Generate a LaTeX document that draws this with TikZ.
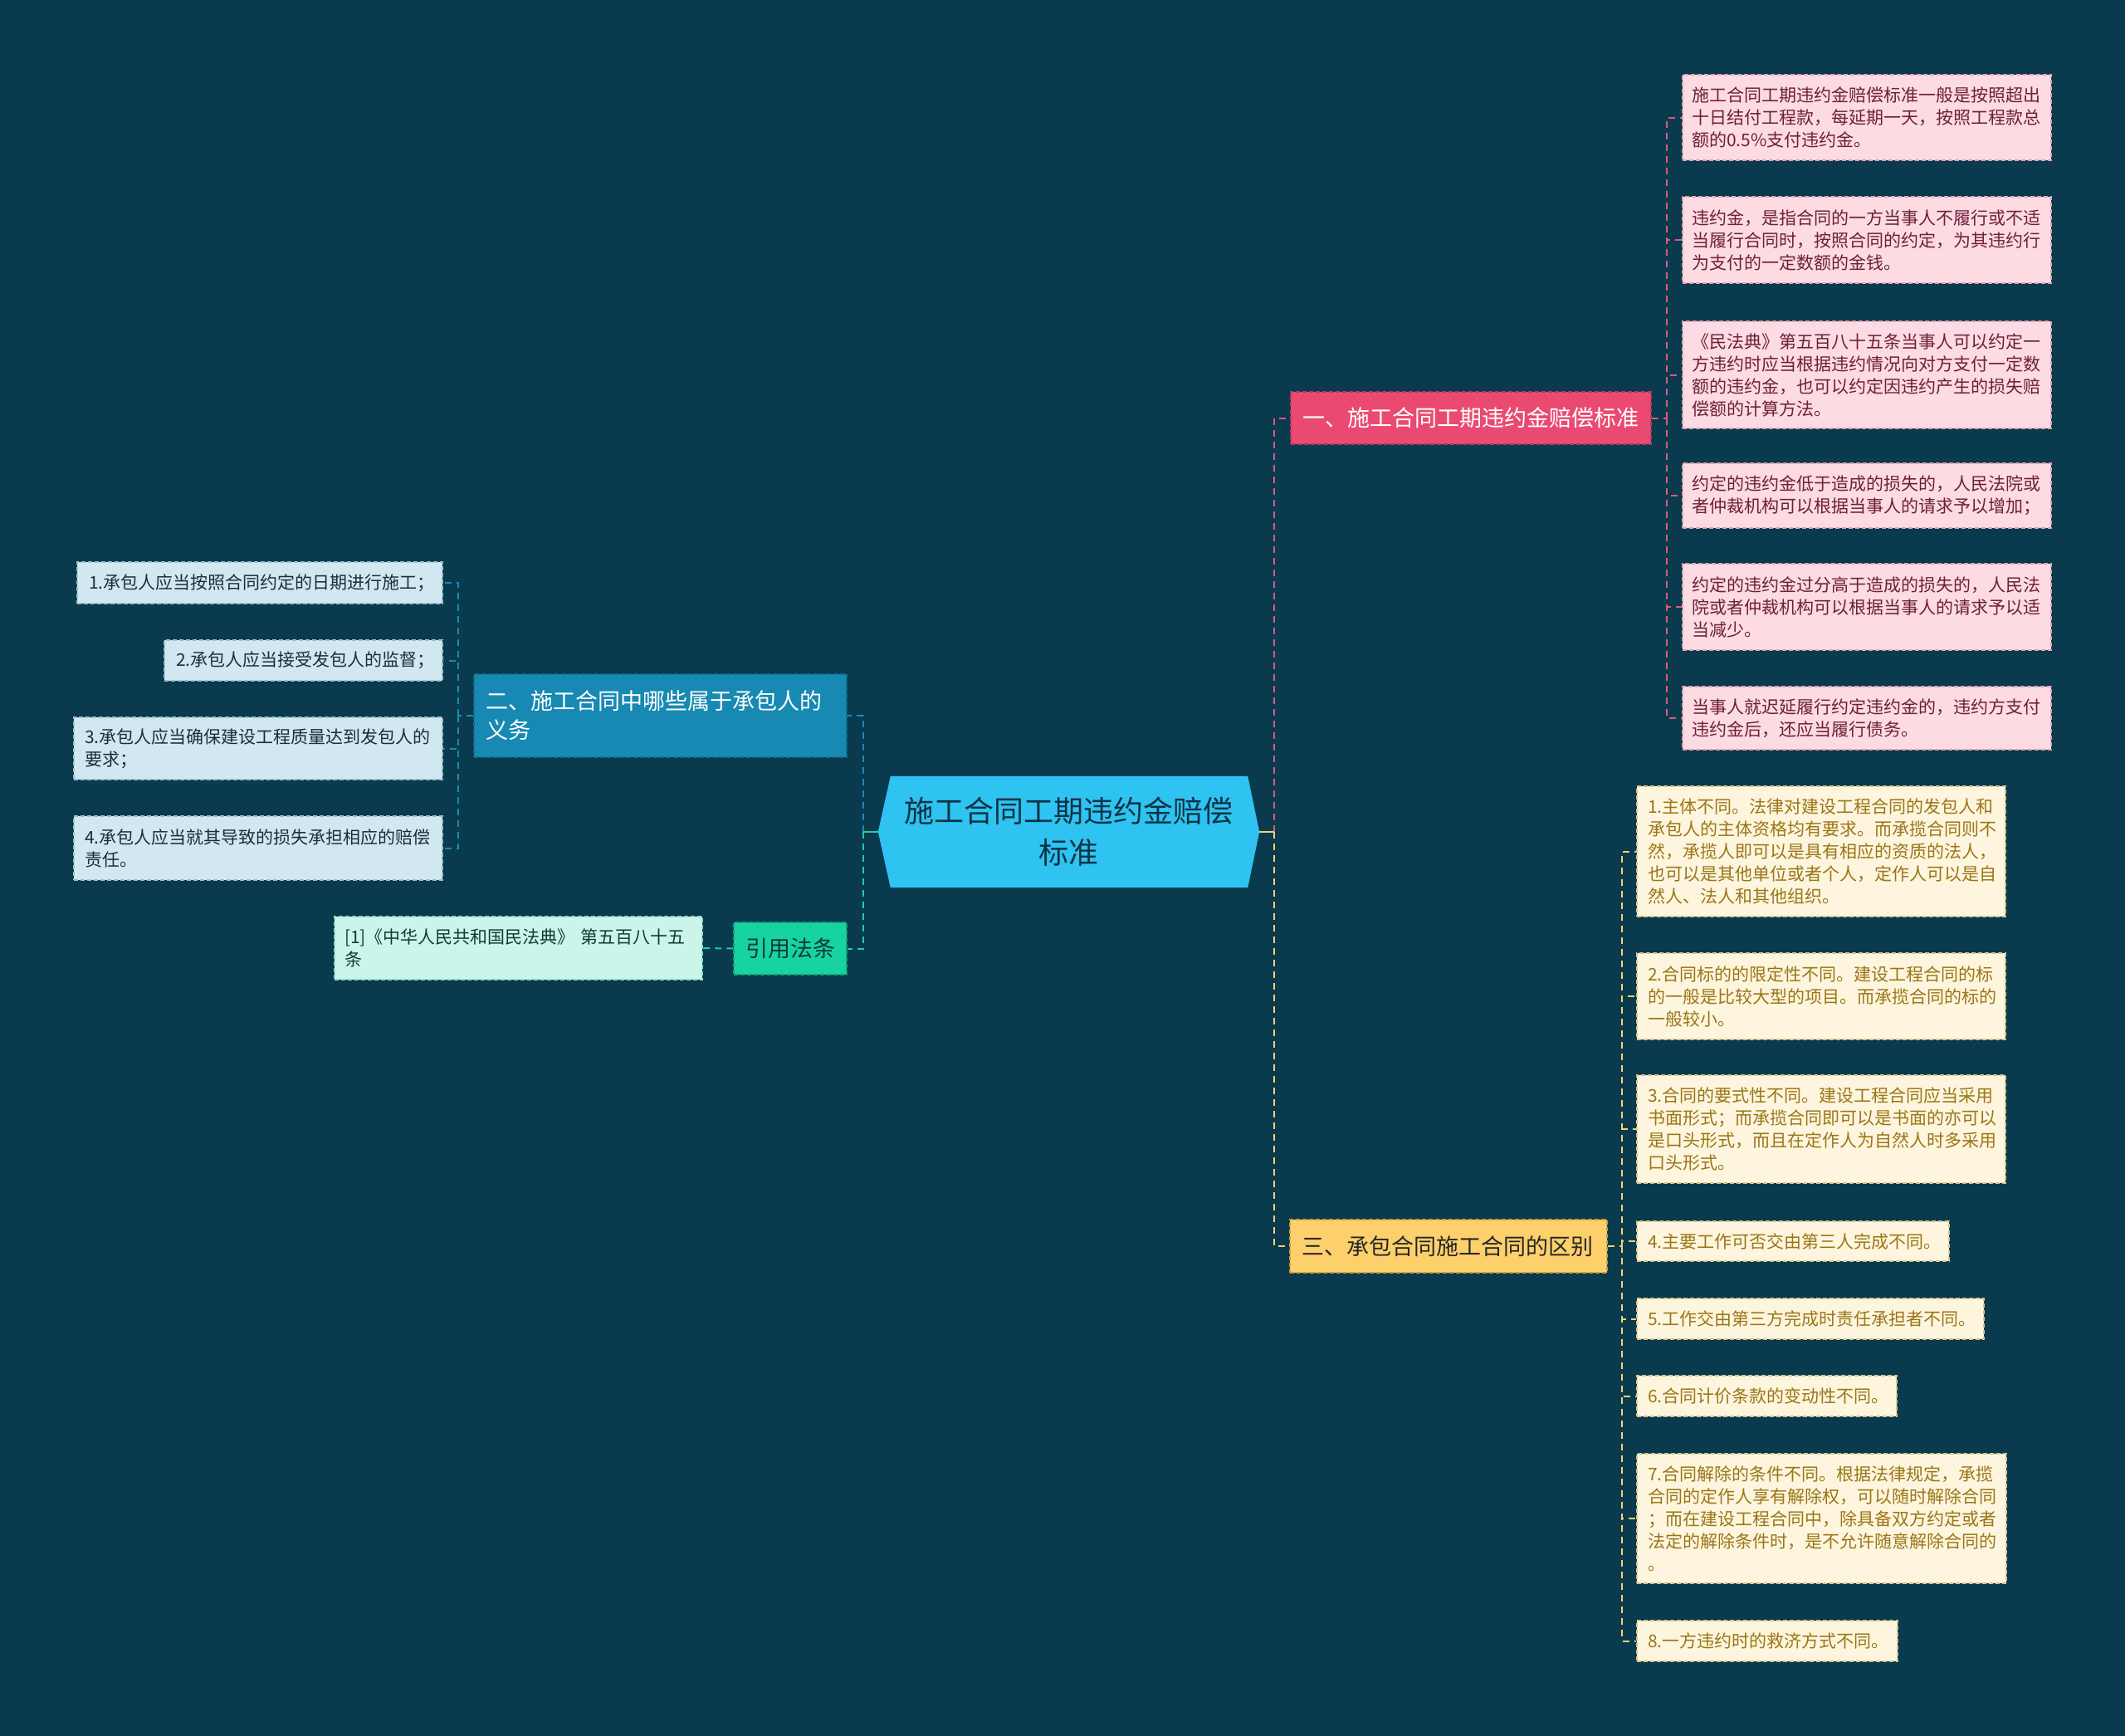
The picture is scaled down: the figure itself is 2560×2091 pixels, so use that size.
\documentclass[tikz,border=0pt]{standalone}
\usepackage{fontspec}
\setmainfont{Noto Sans CJK SC}
\definecolor{bgc}{HTML}{093A4D}
\definecolor{cfill}{HTML}{2EC3F1}
\definecolor{ctext}{HTML}{0E3345}
\definecolor{pinkb}{HTML}{EA4A72}
\definecolor{pinkbbd}{HTML}{B8385A}
\definecolor{pinkleaf}{HTML}{FCDBE2}
\definecolor{pinkbd}{HTML}{E3A2B3}
\definecolor{pinktext}{HTML}{6E1F3A}
\definecolor{pinkline}{HTML}{E0587E}
\definecolor{yelb}{HTML}{FDD06C}
\definecolor{yelbbd}{HTML}{C99E3E}
\definecolor{yelleaf}{HTML}{FDF5DE}
\definecolor{yelbd}{HTML}{D8C48A}
\definecolor{yeltext}{HTML}{9B7616}
\definecolor{yelline}{HTML}{F5D26E}
\definecolor{blueb}{HTML}{1789B3}
\definecolor{bluebbd}{HTML}{136D90}
\definecolor{blueleaf}{HTML}{D2E8F0}
\definecolor{bluebd}{HTML}{9CC0D0}
\definecolor{bluetext}{HTML}{1C2C3C}
\definecolor{blueline}{HTML}{1B8AB5}
\definecolor{grnb}{HTML}{17D3A0}
\definecolor{grnbbd}{HTML}{12A07A}
\definecolor{grnleaf}{HTML}{CBF5EA}
\definecolor{grnbd}{HTML}{90D8C4}
\definecolor{grntext}{HTML}{0E3B36}
\definecolor{grnline}{HTML}{1ECFA0}
\newcommand\leaffont{\fontsize{21pt}{27pt}\selectfont}
\pgfdeclarelayer{bottom}
\pgfdeclarelayer{back}
\pgfsetlayers{bottom,back,main}
\begin{document}
\begin{tikzpicture}[x=1pt,y=-1pt,
  box/.style={inner ysep=0pt, align=left, dash pattern=on 5pt off 3pt, line width=1.2pt},
  bh/.style={minimum height=#1pt},
  pleaf/.style={box, draw=pinkbd, fill=pinkleaf, text=pinktext, font=\leaffont, inner xsep=11pt, text width=422pt},
  yleaf/.style={box, draw=yelbd, fill=yelleaf, text=yeltext, font=\leaffont, inner xsep=13pt, text width=#1pt},
  bleaf/.style={box, draw=bluebd, fill=blueleaf, text=bluetext, font=\leaffont, inner xsep=14pt, text width=#1pt},
  gleaf/.style={box, draw=grnbd, fill=grnleaf, text=grntext, font=\leaffont, inner xsep=12pt, text width=419pt},
  conn/.style={line width=2pt, dash pattern=on 8pt off 6pt},
  stub/.style={line width=2.5pt}
]
\begin{pgfonlayer}{bottom}
\fill[bgc] (0,0) rectangle (2560,2091);
\end{pgfonlayer}
\useasboundingbox (0,0) rectangle (2560,2091);

% center
\node[font=\fontsize{36pt}{50pt}\selectfont, text=ctext, align=center, minimum width=459pt, minimum height=134pt, inner sep=0pt] (c) at (1287.5,1002) {施工合同工期违约金赔偿\\标准};
\begin{pgfonlayer}{back}
\fill[cfill] (c.west) -- ([xshift=15pt]c.north west) -- ([xshift=-14pt]c.north east) -- (c.east) -- ([xshift=-14pt]c.south east) -- ([xshift=15pt]c.south west) -- cycle;
\end{pgfonlayer}

% branches
\node[box, draw=pinkbbd, fill=pinkb, text=white, font=\fontsize{27pt}{33pt}\selectfont, inner xsep=14pt, text width=406pt, bh=63] (b1) at (1772,503.5) {一、施工合同工期违约金赔偿标准};
\node[box, draw=bluebbd, fill=blueb, text=white, font=\fontsize{27pt}{35pt}\selectfont, inner xsep=14pt, text width=421pt, bh=100] (b2) at (795.5,862) {二、施工合同中哪些属于承包人的\\义务};
\node[box, draw=yelbbd, fill=yelb, text=black!85, font=\fontsize{27pt}{33pt}\selectfont, inner xsep=14pt, text width=354pt, bh=64] (b3) at (1745,1501) {三、承包合同施工合同的区别};
\node[box, draw=grnbbd, fill=grnb, text=grntext, font=\fontsize{27pt}{33pt}\selectfont, align=center, inner xsep=0pt, minimum width=136pt, bh=63] (b4) at (952,1142.5) {引用法条};

% pink leaves
\node[pleaf, bh=103] (p1) at (2249,141.5) {施工合同工期违约金赔偿标准一般是按照超出\\十日结付工程款，每延期一天，按照工程款总\\额的0.5\%支付违约金。};
\node[pleaf, bh=104] (p2) at (2249,289) {违约金，是指合同的一方当事人不履行或不适\\当履行合同时，按照合同的约定，为其违约行\\为支付的一定数额的金钱。};
\node[pleaf, bh=129] (p3) at (2249,451.5) {《民法典》第五百八十五条当事人可以约定一\\方违约时应当根据违约情况向对方支付一定数\\额的违约金，也可以约定因违约产生的损失赔\\偿额的计算方法。};
\node[pleaf, bh=78] (p4) at (2249,597) {约定的违约金低于造成的损失的，人民法院或\\者仲裁机构可以根据当事人的请求予以增加；};
\node[pleaf, bh=104] (p5) at (2249,731) {约定的违约金过分高于造成的损失的，人民法\\院或者仲裁机构可以根据当事人的请求予以适\\当减少。};
\node[pleaf, bh=76] (p6) at (2249,865) {当事人就迟延履行约定违约金的，违约方支付\\违约金后，还应当履行债务。};

% yellow leaves
\node[yleaf=418, bh=157] (y1) at (2194,1025.5) {1.主体不同。法律对建设工程合同的发包人和\\承包人的主体资格均有要求。而承揽合同则不\\然，承揽人即可以是具有相应的资质的法人，\\也可以是其他单位或者个人，定作人可以是自\\然人、法人和其他组织。};
\node[yleaf=418, bh=104] (y2) at (2194,1200) {2.合同标的的限定性不同。建设工程合同的标\\的一般是比较大型的项目。而承揽合同的标的\\一般较小。};
\node[yleaf=418, bh=130] (y3) at (2194,1360) {3.合同的要式性不同。建设工程合同应当采用\\书面形式；而承揽合同即可以是书面的亦可以\\是口头形式，而且在定作人为自然人时多采用\\口头形式。};
\node[yleaf=350, bh=48] (y4) at (2160,1495) {4.主要工作可否交由第三人完成不同。};
\node[yleaf=392, bh=49] (y5) at (2181,1588.5) {5.工作交由第三方完成时责任承担者不同。};
\node[yleaf=287, bh=49] (y6) at (2128.5,1681.5) {6.合同计价条款的变动性不同。};
\node[yleaf=419, bh=156] (y7) at (2194.5,1829) {7.合同解除的条件不同。根据法律规定，承揽\\合同的定作人享有解除权，可以随时解除合同\\；而在建设工程合同中，除具备双方约定或者\\法定的解除条件时，是不允许随意解除合同的\\。};
\node[yleaf=288, bh=49] (y8) at (2129,1976.5) {8.一方违约时的救济方式不同。};

% blue leaves
\node[bleaf=412, bh=50] (l1) at (313,702) {1.承包人应当按照合同约定的日期进行施工；};
\node[bleaf=307, bh=49] (l2) at (365.5,795.5) {2.承包人应当接受发包人的监督；};
\node[bleaf=418, bh=75, inner xsep=13pt] (l3) at (311,901.5) {3.承包人应当确保建设工程质量达到发包人的\\要求；};
\node[bleaf=418, bh=77, inner xsep=13pt] (l4) at (311,1021.5) {4.承包人应当就其导致的损失承担相应的赔偿\\责任。};

% green leaf
\node[gleaf, bh=76] (g1) at (624.5,1142) {[1]《中华人民共和国民法典》 第五百八十五\\条};

% connectors from center
\coordinate (cR) at (1535,1002);
\coordinate (cL) at (1040,1002);
\draw[conn, pinkline] (cR) |- (b1.west);
\draw[conn, yelline] (cR) |- (b3.west);
\draw[conn, blueline] (cL) |- (b2.east);
\draw[conn, grnline] (cL) |- (b4.east);
\draw[stub, yelline] (c.east) -- (cR);
\draw[stub, grnline] (c.west) -- (cL);

% pink branch
\coordinate (pv) at (2008,503.5);
\draw[conn, pinkline] (b1.east) -- (pv);
\foreach \n in {p1,p2,p3,p4,p5,p6} \draw[conn, pinkline] (pv) |- (\n.west);

% yellow branch
\coordinate (yv) at (1954,1501);
\draw[conn, yelline] (b3.east) -- (yv);
\foreach \n in {y1,y2,y3,y4,y5,y6,y7,y8} \draw[conn, yelline] (yv) |- (\n.west);

% blue branch
\coordinate (bv) at (552,862);
\draw[conn, blueline] (b2.west) -- (bv);
\foreach \n in {l1,l2,l3,l4} \draw[conn, blueline] (bv) |- (\n.east);

% green branch
\draw[conn, grnline] (b4.west) -- (g1.east);
\end{tikzpicture}
\end{document}
